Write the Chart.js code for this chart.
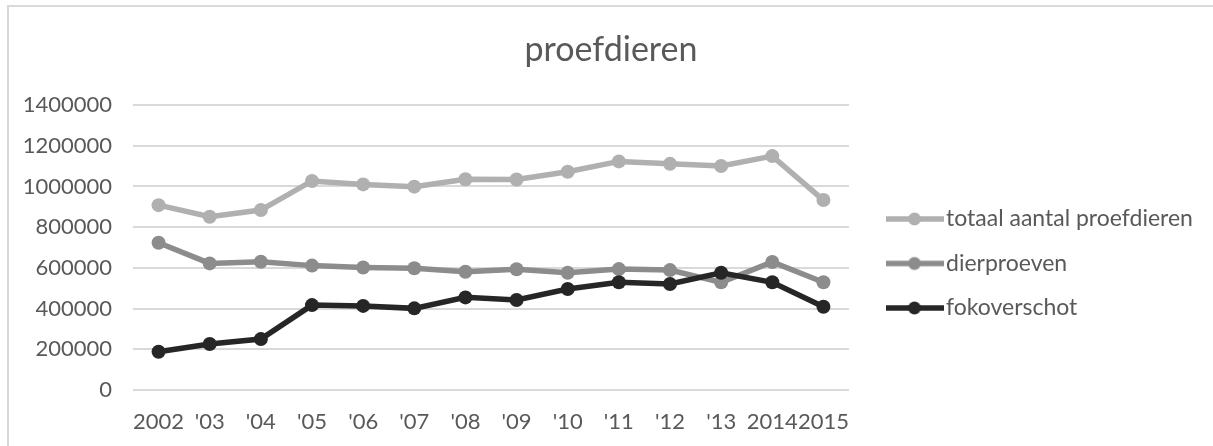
<!DOCTYPE html>
<html><head><meta charset="utf-8">
<script src="https://cdn.jsdelivr.net/npm/chart.js@4/dist/chart.umd.min.js"></script>
<style>
html,body{margin:0;padding:0;background:#fff;overflow:hidden}
#frame{position:absolute;left:7px;top:5px;width:1204px;height:439px;border-top:2px solid #d9d9d9;border-left:2px solid #d9d9d9;}
canvas{display:block}
</style></head><body>
<div id="frame"><canvas id="c" width="1204" height="439"></canvas></div>
<script>
const categories = ['2002', "'03", "'04", "'05", "'06", "'07", "'08", "'09", "'10", "'11", "'12", "'13", '2014', '2015'];
const seriesNames = ['totaal aantal proefdieren', 'dierproeven', 'fokoverschot'];
const totaal = [908000, 851000, 884000, 1027000, 1010000, 999000, 1035000, 1034000, 1072000, 1123000, 1111000, 1100000, 1149000, 933000];
const dierproeven = [723000, 622000, 630000, 611000, 602000, 598000, 581000, 593000, 576000, 594000, 589000, 529000, 629000, 529000];
const fokoverschot = [188000, 226000, 250000, 417000, 413000, 401000, 455000, 442000, 496000, 529000, 521000, 576000, 529000, 409000];
const yMin = 0, yMax = 1400000, yStep = 200000;
const title = 'proefdieren';
const colors = ['#b0b0b0', '#8c8c8c', '#262626'];
const textColor = '#595959';

function legendImg(color) {
  const c = document.createElement('canvas');
  c.width = 58; c.height = 16;
  const g = c.getContext('2d');
  g.strokeStyle = color; g.lineWidth = 5.5;
  g.beginPath(); g.moveTo(0, 8); g.lineTo(58, 8); g.stroke();
  g.fillStyle = color;
  g.beginPath(); g.arc(29, 8, 6.5, 0, Math.PI * 2); g.fill();
  return c;
}

const legendLayout = {
  id: 'legendLayout',
  beforeLayout(chart) {
    const l = chart.legend;
    if (!l || l._fixedFit) return;
    const orig = l.fit;
    l.fit = function () { orig.call(this); this.width = 364; };
    l._fixedFit = true;
  },
  afterLayout(chart) {
    const l = chart.legend;
    if (!l) return;
    l.left += 24; l.right += 24; l.top += 37; l.bottom += 37;
  }
};

const seriesData = [totaal, dierproeven, fokoverschot];
const datasets = seriesData.map((d, i) => ({
  label: seriesNames[i],
  data: d,
  borderColor: colors[i],
  backgroundColor: colors[i],
  pointBackgroundColor: colors[i],
  pointBorderColor: colors[i],
  pointRadius: 7,
  pointBorderWidth: 0,
  pointHoverRadius: 7,
  borderWidth: 5.5,
  tension: 0,
  fill: false,
  order: 3 - i
}));

Chart.defaults.font.family = 'Lato, "Open Sans", sans-serif';
Chart.defaults.color = textColor;

new Chart(document.getElementById('c'), {
  type: 'line',
  data: { labels: categories, datasets },
  plugins: [legendLayout],
  options: {
    responsive: false,
    animation: false,
    layout: { padding: { left: 0, right: 0, top: 0, bottom: 0 } },
    plugins: {
      tooltip: { enabled: false },
      title: {
        display: true, text: title, color: textColor,
        font: { size: 34, weight: 'normal', family: 'Lato' },
        padding: { top: 22.7, bottom: 34.5 }
      },
      legend: {
        display: true, position: 'right',
        labels: {
          usePointStyle: true,
          pointStyleWidth: 40,
          padding: 21.5,
          color: textColor,
          font: { size: 23, family: 'Lato' },
          generateLabels(chart) {
            return chart.data.datasets.map((ds, i) => ({
              text: ds.label,
              fillStyle: colors[i],
              strokeStyle: colors[i],
              lineWidth: 0,
              pointStyle: legendImg(colors[i]),
              fontColor: textColor,
              hidden: false,
              datasetIndex: i
            }));
          }
        }
      }
    },
    scales: {
      x: {
        offset: true,
        grid: { display: false, drawTicks: false },
        border: { display: false },
        ticks: { color: textColor, font: { size: 22, family: 'Lato' }, padding: 18.5, maxRotation: 0, autoSkip: false },
        afterFit(s) { s.height = 56; }
      },
      y: {
        min: yMin, max: yMax,
        grid: { color: '#d9d9d9', lineWidth: 2, drawTicks: false },
        border: { display: false },
        ticks: {
          stepSize: yStep, color: textColor, padding: 21,
          font: { size: 22, family: 'Lato' },
          callback: v => String(v)
        },
        afterFit(s) { s.width = 124; }
      }
    }
  }
});
</script>
</body></html>
